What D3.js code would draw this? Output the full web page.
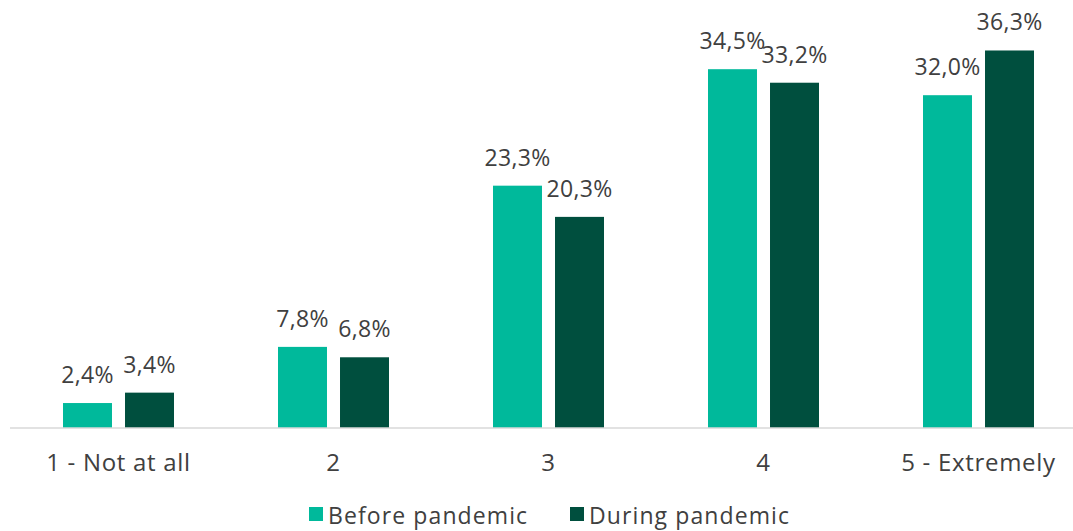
<!DOCTYPE html>
<html>
<head>
<meta charset="utf-8">
<script src="https://cdn.jsdelivr.net/npm/d3@7"></script>
<style>
  body { margin: 0; background: #fff; }
  text { font-family: 'Open Sans', sans-serif; fill: #404040; }
</style>
</head>
<body>
<svg width="1073" height="531"></svg>
<script>
const categories = ['1 - Not at all', '2', '3', '4', '5 - Extremely']
const seriesNames = ['Before pandemic', 'During pandemic']
const beforeValues = [2.4, 7.8, 23.3, 34.5, 32.0]
const duringValues = [3.4, 6.8, 20.3, 33.2, 36.3]

const colors = ['#00B99B', '#004F3E']

const svg = d3.select('svg')
const baseY = 428

const x0 = d3.scaleBand()
  .domain(categories)
  .range([11, 1086])
  .padding(0)

const x1 = d3.scaleBand()
  .domain(seriesNames)
  .range([52, 163])
  .paddingInner(0.21)

const y = d3.scaleLinear()
  .domain([0, 40])
  .range([baseY, baseY - 416])

const z = d3.scaleOrdinal().domain(seriesNames).range(colors)

const rows = categories.map((c, i) => ({
  name: c,
  values: [
    { key: seriesNames[0], value: beforeValues[i] },
    { key: seriesNames[1], value: duringValues[i] }
  ]
}))

const groups = svg.append('g').selectAll('g')
  .data(rows)
  .enter().append('g')
  .attr('transform', d => 'translate(' + x0(d.name) + ',0)')

groups.selectAll('rect')
  .data(d => d.values)
  .enter().append('rect')
  .attr('x', d => x1(d.key))
  .attr('y', d => y(d.value))
  .attr('width', x1.bandwidth())
  .attr('height', d => y(0) - y(d.value))
  .attr('fill', d => z(d.key))

groups.selectAll('text.val')
  .data(d => d.values)
  .enter().append('text')
  .attr('class', 'val')
  .attr('x', d => x1(d.key) + x1.bandwidth() / 2)
  .attr('y', d => y(d.value) - 20)
  .attr('text-anchor', 'middle')
  .attr('font-size', 23)
  .attr('letter-spacing', 0.3)
  .text(d => d.value.toFixed(1).replace('.', ',') + '%')

// axis
const xAxis = svg.append('g')
  .attr('transform', 'translate(0,' + baseY + ')')
  .call(d3.axisBottom(x0).tickSize(0).tickPadding(26))

xAxis.select('.domain')
  .attr('d', 'M10,0H1073')
  .attr('stroke', '#d9d9d9')
  .attr('stroke-width', 1.5)

xAxis.selectAll('text')
  .attr('font-size', 24)
  .attr('letter-spacing', 0.7)
  .style('font-family', "'Open Sans', sans-serif")
  .attr('fill', '#595959')

// legend (nudged up a little so descenders stay inside the frame)
const legend = svg.append('g')
const legendX = [309, 570]
const legendEnter = legend.selectAll('g')
  .data(seriesNames)
  .enter().append('g')
  .attr('transform', (d, i) => 'translate(' + legendX[i] + ',507)')

legendEnter.append('rect')
  .attr('width', 14)
  .attr('height', 14)
  .attr('fill', d => z(d))

legendEnter.append('text')
  .attr('x', 19)
  .attr('y', 17)
  .attr('font-size', 23)
  .attr('letter-spacing', 1.1)
  .attr('fill', '#595959')
  .text(d => d)
</script>
</body>
</html>
